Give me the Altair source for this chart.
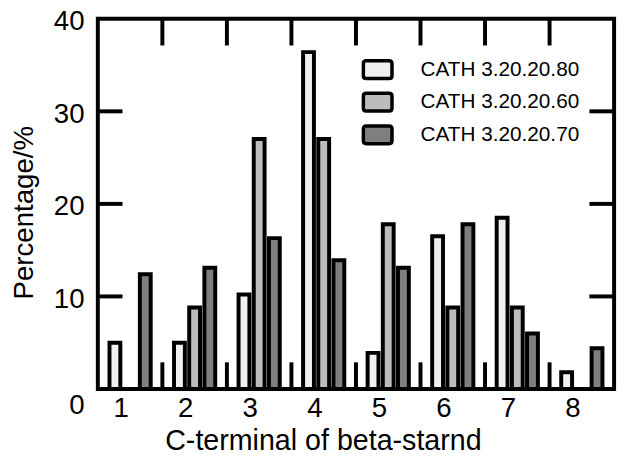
import altair as alt
import pandas as pd

categories = ["1", "2", "3", "4", "5", "6", "7", "8"]
series_names = ["CATH 3.20.20.80", "CATH 3.20.20.60", "CATH 3.20.20.70"]
cath80 = [5.0, 5.0, 10.2, 36.4, 3.9, 16.5, 18.5, 1.8]
cath60 = [0.0, 8.8, 27.0, 27.0, 17.8, 8.8, 8.8, 0.0]
cath70 = [12.4, 13.1, 16.3, 13.9, 13.1, 17.8, 6.0, 4.4]
colors = ["#f0f0f0", "#bcbcbc", "#7f7f7f"]
y_ticks = [0, 10, 20, 30, 40]
inner_y_ticks = [10, 20, 30]
boundaries = categories[1:]

rows = []
for name, vals in zip(series_names, [cath80, cath60, cath70]):
    for c, v in zip(categories, vals):
        rows.append({"cat": c, "series": name, "value": v})
df = pd.DataFrame(rows)

W, H = 523, 375
FONT = "Liberation Sans"

xscale = alt.Scale(domain=categories, paddingInner=0, paddingOuter=0)
yscale = alt.Scale(domain=[0, 40], nice=False, zero=True)

sym_path = ("M-0.8,-0.62H0.8Q1,-0.62 1,-0.42V0.42Q1,0.62 0.8,0.62"
            "H-0.8Q-1,0.62 -1,0.42V-0.42Q-1,-0.62 -0.8,-0.62Z")

bars = alt.Chart(df).mark_bar(stroke="black", strokeWidth=4).encode(
    x=alt.X("cat:N", scale=xscale,
            axis=alt.Axis(title="C-terminal of beta-starnd", labelAngle=0,
                          labelFontSize=28, labelFont=FONT, labelColor="black",
                          labelPadding=6, labelOffset=-9, ticks=False, tickSize=0,
                          domain=False, titleFontSize=29, titleFont=FONT,
                          titleFontWeight="normal", titleColor="black",
                          titleX=228, titleY=61, titleAlign="center",
                          titleBaseline="alphabetic")),
    xOffset=alt.XOffset("series:N",
                        scale=alt.Scale(domain=series_names, paddingInner=0.286,
                                        paddingOuter=0.768)),
    y=alt.Y("value:Q", scale=yscale,
            axis=alt.Axis(title="Percentage/%", values=y_ticks, grid=False,
                          ticks=False, tickSize=0, domain=False,
                          labelFontSize=28, labelFont=FONT, labelColor="black",
                          labelPadding=14, labelOffset=3,
                          labelBaseline={"expr": "datum.value == 0 ? 'top' : 'middle'"},
                          titleFontSize=28, titleFont=FONT, titleFontWeight="normal",
                          titleColor="black", titleAngle=-90, titleX=-66, titleY=196,
                          titleAlign="center", titleBaseline="alphabetic")),
    fill=alt.Fill("series:N",
                  scale=alt.Scale(domain=series_names, range=colors),
                  legend=alt.Legend(title=None, orient="none", legendX=267, legendY=35,
                                    symbolType=sym_path, symbolSize=841,
                                    symbolStrokeColor="black", symbolStrokeWidth=3.5,
                                    labelFontSize=21, labelFont=FONT, labelColor="black",
                                    labelLimit=400, labelOffset=27, rowPadding=-4,
                                    padding=0)),
)

bdf = pd.DataFrame({"cat": boundaries})
tdf = pd.DataFrame({"v": inner_y_ticks})

bottom_ticks = alt.Chart(bdf).mark_rule(color="black", strokeWidth=4).encode(
    x=alt.X("cat:N", scale=xscale, bandPosition=0),
    y=alt.value(H), y2=alt.value(H - 27))
top_ticks = alt.Chart(bdf).mark_rule(color="black", strokeWidth=4).encode(
    x=alt.X("cat:N", scale=xscale, bandPosition=0),
    y=alt.value(0), y2=alt.value(27))
left_ticks = alt.Chart(tdf).mark_rule(color="black", strokeWidth=4).encode(
    y=alt.Y("v:Q", scale=yscale), x=alt.value(0), x2=alt.value(25))
right_ticks = alt.Chart(tdf).mark_rule(color="black", strokeWidth=4).encode(
    y=alt.Y("v:Q", scale=yscale), x=alt.value(W), x2=alt.value(W - 25))

chart = alt.layer(bars, bottom_ticks, top_ticks, left_ticks, right_ticks).properties(
    width=W, height=H,
    background="white",
    autosize=alt.AutoSizeParams(type="none"),
    padding={"left": 91, "top": 8, "right": 8, "bottom": 67},
).configure_view(stroke="black", strokeWidth=4)

chart.save("out.html", embed_options={"renderer": "svg", "actions": False})
